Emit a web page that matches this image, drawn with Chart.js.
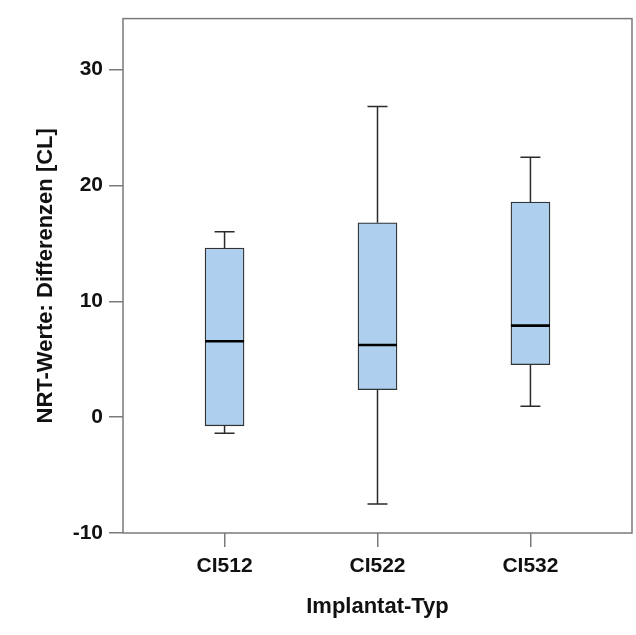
<!DOCTYPE html>
<html>
<head>
<meta charset="utf-8">
<script src="https://cdn.jsdelivr.net/npm/chart.js@4"></script>
<style>
html,body{margin:0;padding:0;background:#fff;}
#wrap{width:636px;height:635px;}
</style>
</head>
<body>
<div id="wrap"><canvas id="c" width="636" height="635"></canvas></div>
<script>
const categories = ['CI512', 'CI522', 'CI532'];
const whiskerLow  = [-1.38, -7.49, 0.93];
const q1          = [-0.75, 2.37, 4.53];
const median      = [6.55, 6.23, 7.90];
const q3          = [14.59, 16.78, 18.57];
const whiskerHigh = [16.0, 26.82, 22.44];
const yTicks = [-10, 0, 10, 20, 30];

const boxData = categories.map((c, i) => ({x: i, y: [q1[i], q3[i]]}));

const FAMILY = '"Liberation Sans", Arial, sans-serif';
const TICK_FONT = {family: FAMILY, size: 21, weight: 'bold'};
const TITLE_FONT = {family: FAMILY, size: 22, weight: 'bold'};

const boxPlugin = {
  id: 'boxExtras',
  beforeDatasetsDraw(chart) {
    const {ctx, scales: {x, y}} = chart;
    ctx.save();
    ctx.strokeStyle = '#2b2b2b';
    ctx.lineWidth = 1.5;
    categories.forEach((c, i) => {
      const px = x.getPixelForValue(i);
      const capHalf = 10;
      ctx.beginPath();
      ctx.moveTo(px, y.getPixelForValue(whiskerLow[i]));
      ctx.lineTo(px, y.getPixelForValue(q1[i]));
      ctx.moveTo(px, y.getPixelForValue(q3[i]));
      ctx.lineTo(px, y.getPixelForValue(whiskerHigh[i]));
      ctx.moveTo(px - capHalf, y.getPixelForValue(whiskerLow[i]));
      ctx.lineTo(px + capHalf, y.getPixelForValue(whiskerLow[i]));
      ctx.moveTo(px - capHalf, y.getPixelForValue(whiskerHigh[i]));
      ctx.lineTo(px + capHalf, y.getPixelForValue(whiskerHigh[i]));
      ctx.stroke();
    });
    ctx.restore();
  },
  afterDatasetsDraw(chart) {
    const {ctx, scales: {x, y}, chartArea: a} = chart;
    const meta = chart.getDatasetMeta(0);
    ctx.save();
    ctx.strokeStyle = '#000';
    ctx.lineWidth = 2.6;
    categories.forEach((c, i) => {
      const bar = meta.data[i];
      const half = bar.width / 2;
      const py = y.getPixelForValue(median[i]);
      ctx.beginPath();
      ctx.moveTo(bar.x - half, py);
      ctx.lineTo(bar.x + half, py);
      ctx.stroke();
    });
    ctx.strokeStyle = '#7a7a7a';
    ctx.lineWidth = 1.5;
    ctx.strokeRect(a.left, a.top, a.right - a.left, a.bottom - a.top);
    ctx.restore();
  }
};

new Chart(document.getElementById('c'), {
  type: 'bar',
  data: {
    datasets: [{
      data: boxData,
      backgroundColor: '#aed0ee',
      borderColor: '#333333',
      borderWidth: 1.3,
      borderSkipped: false,
      barThickness: 39
    }]
  },
  options: {
    responsive: false,
    animation: false,
    layout: {padding: {top: 18, right: 4, bottom: 0, left: 0}},
    plugins: {legend: {display: false}, tooltip: {enabled: false}},
    scales: {
      x: {
        type: 'linear',
        offset: false,
        min: -0.664,
        max: 2.664,
        afterBuildTicks(scale) { scale.ticks = categories.map((c, i) => ({value: i})); },
        afterFit(scale) { scale.height = 102; },
        ticks: {
          callback: (v) => categories[v],
          color: '#111',
          font: TICK_FONT,
          padding: 7,
          maxRotation: 0
        },
        grid: {display: true, offset: false, drawOnChartArea: false, drawTicks: true, tickLength: 14, color: '#7a7a7a', lineWidth: 1.5},
        border: {display: false},
        title: {display: true, text: 'Implantat-Typ', color: '#111', font: TITLE_FONT, padding: {top: 0, bottom: 15}}
      },
      y: {
        type: 'linear',
        min: -10,
        max: 34.4,
        afterBuildTicks(scale) { scale.ticks = yTicks.map(v => ({value: v})); },
        afterFit(scale) { scale.width = 123; },
        ticks: {color: '#111', font: TICK_FONT, padding: 6},
        grid: {display: true, drawOnChartArea: false, drawTicks: true, tickLength: 14, color: '#7a7a7a', lineWidth: 1.5},
        border: {display: false},
        title: {display: true, text: 'NRT-Werte: Differenzen [CL]', color: '#111', font: TITLE_FONT, padding: {top: 33, bottom: 0}}
      }
    }
  },
  plugins: [boxPlugin]
});
</script>
</body>
</html>
